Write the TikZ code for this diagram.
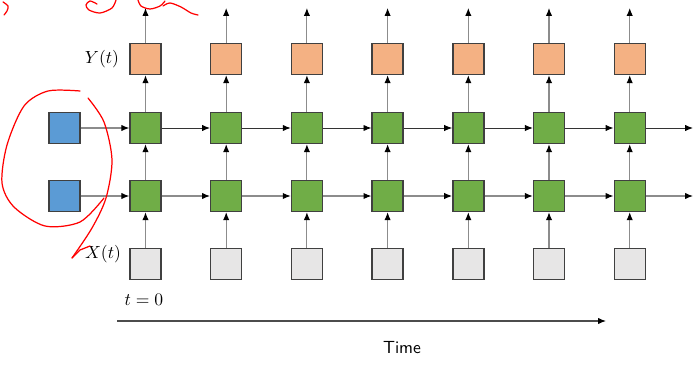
\documentclass[tikz,border=0pt]{standalone}
\usetikzlibrary{arrows.meta}
\definecolor{outfill}{HTML}{F4B183}
\definecolor{hidfill}{HTML}{70AD47}
\definecolor{initfill}{HTML}{5B9BD5}
\definecolor{infill}{HTML}{E7E6E6}
\tikzset{
  cell/.style={draw=black!75, line width=0.8pt, minimum size=0.62cm, inner sep=0pt},
  outcell/.style={cell, fill=outfill},
  hidcell/.style={cell, fill=hidfill},
  initcell/.style={cell, fill=initfill},
  incell/.style={cell, fill=infill},
  link/.style={draw=black!45, line width=0.6pt, ->},
  darklink/.style={draw=black!80, line width=0.5pt, ->},
  scribble/.style={red, line width=0.7pt, line cap=round, line join=round}
}
\begin{document}
\begin{tikzpicture}[x=0.02cm, y=-0.02cm, >={Latex[length=4.5pt,width=3.6pt,black]}]
\useasboundingbox (0,0) rectangle (695,368);

% initial states
\node[initcell] (h1) at (64.5,128) {};
\node[initcell] (h2) at (64.5,196) {};

% unrolled cells
\foreach \i [evaluate=\i as \xx using 145.5+80.7*\i] in {0,...,6}{
  \node[outcell] (y\i) at (\xx,59) {};
  \node[hidcell] (a\i) at (\xx,128) {};
  \node[hidcell] (b\i) at (\xx,196) {};
  \node[incell] (x\i) at (\xx,264) {};
  \coordinate (o\i) at (\xx,8);
  \draw[link] (x\i) -- (b\i);
  \draw[link] (b\i) -- (a\i);
  \draw[link] (a\i) -- (y\i);
  \draw[link] (y\i) -- (o\i);
}

% recurrent links
\draw[link] (h1) -- (a0);
\draw[link] (h2) -- (b0);
\foreach \i [count=\j from 1] in {0,...,5}{
  \draw[darklink] (a\i) -- (a\j);
  \draw[link] (b\i) -- (b\j);
}
\coordinate (ra) at (693,128);
\coordinate (rb) at (693,196);
\draw[darklink] (a6) -- (ra);
\draw[link] (b6) -- (rb);

% labels
\node (ylab) at (102,59) {$Y(t)$};
\node (xlab) at (103,254) {$X(t)$};
\node (tzero) at (144,300) {$t=0$};
\coordinate (tstart) at (117,321);
\coordinate (tend) at (606,321);
\draw[draw=black!70, line width=0.6pt, ->] (tstart) -- (tend);
\node (time) at (402,348) {\sffamily Time};

% red marks
\draw[scribble] plot[smooth] coordinates {(80,91) (48,91) (24,106) (7,145) (2,183) (14,207) (45,226) (80,222) (104,198)};
\draw[scribble] plot[smooth] coordinates {(88,98) (104,122) (112,160) (106,198) (92,228) (72,258)};
\draw[scribble] (72,258) -- (80,250) -- (90,246);
\draw[scribble] plot[smooth] coordinates {(3,2) (8,6) (7,11) (4,15)};
\draw[scribble] plot[smooth] coordinates {(116,0) (112,8) (100,13) (89,10) (86,5) (90,1) (97,4)};
\draw[scribble] plot[smooth] coordinates {(138,0) (141,6) (150,9) (160,6) (165,1)};
\draw[scribble] plot[smooth] coordinates {(163,6) (170,3) (181,7) (191,13) (198,15)};
\end{tikzpicture}
\end{document}
